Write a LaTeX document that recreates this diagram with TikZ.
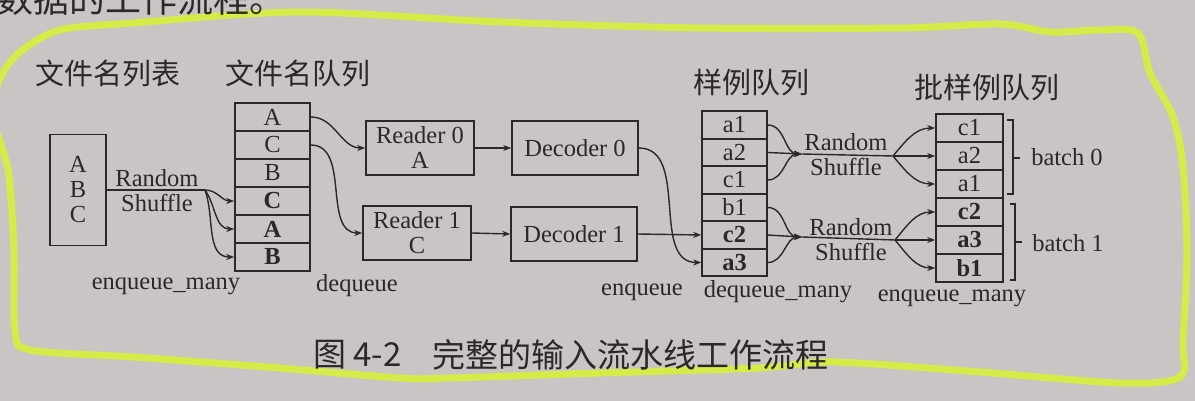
\documentclass[tikz,border=0pt]{standalone}
\usepackage{fontspec}
\setmainfont{Liberation Serif}
\newfontfamily\cjk{Noto Sans CJK SC}
\usetikzlibrary{arrows.meta}
\definecolor{paper}{RGB}{201,197,196}
\definecolor{ink}{RGB}{44,40,40}
\definecolor{marker}{RGB}{214,234,72}

\begin{document}
\begin{tikzpicture}[x=1pt,y=-1pt,
  every node/.style={text=ink,inner sep=0pt,font=\fontsize{24.5}{25}\selectfont},
  box/.style={draw=ink,line width=1.6pt},
  cell/.style={box,minimum width=75pt,minimum height=28pt},
  scell/.style={box,minimum width=65pt,minimum height=27.5pt},
  bcell/.style={box,minimum width=67pt,minimum height=28pt},
  stage/.style={box,minimum width=108pt,minimum height=54pt,align=center},
  heading/.style={font=\cjk\fontsize{29}{30}\selectfont},
  wire/.style={draw=ink,line width=1.4pt},
  flow/.style={wire,-{Stealth[length=8pt,width=6pt]}}]
\fill[paper] (0,0) rectangle (1195,401);
\useasboundingbox (0,0) rectangle (1195,401);
\draw[marker,line width=7pt,line cap=round,line join=round] plot[smooth,tension=0.5] coordinates {(-8,112) (0,78) (20,52) (60,30) (133,23) (300,12) (500,22) (700,28) (900,28) (1000,24) (1050,32) (1100,30) (1138,33) (1150,73) (1173,117) (1183,167) (1187,253) (1183,340) (1180,377) (1120,383) (980,372) (833,362) (759,368) (600,373) (450,378) (400,378) (267,367) (133,357) (30,350) (15,330) (14,250) (8,170) (-8,120)};
\node[anchor=base west,font=\cjk\fontsize{36}{36}\selectfont] (prev) at (-3,13) {数据的工作流程。};

\node[heading] (hlist) at (108,73) {文件名列表};
\node[heading] (hqueue) at (298,73) {文件名队列};
\node[heading] (hsample) at (751,83) {样例队列};
\node[heading] (hbatch) at (987,88) {批样例队列};

\node[box,minimum width=56pt,minimum height=111pt,align=center] (list) at (78,190) {A\\B\\C};
\node[cell] (q1) at (272.5,117) {A};
\node[cell] (q2) at (272.5,145) {C};
\node[cell] (q3) at (272.5,173) {B};
\node[cell] (q4) at (272.5,201) {\textbf{C}};
\node[cell] (q5) at (272.5,229) {\textbf{A}};
\node[cell] (q6) at (272.5,257) {\textbf{B}};

\node[stage] (rd0) at (420,148) {Reader 0\\A};
\node[stage] (rd1) at (417,233) {Reader 1\\C};
\node[stage,minimum width=126pt] (dc0) at (575,148) {Decoder 0};
\node[stage,minimum width=126pt] (dc1) at (574,234) {Decoder 1};

\node[scell] (s1) at (734.5,125) {a1};
\node[scell] (s2) at (734.5,152.5) {a2};
\node[scell] (s3) at (734.5,180) {c1};
\node[scell] (s4) at (734.5,207.5) {b1};
\node[scell] (s5) at (734.5,235) {\textbf{c2}};
\node[scell] (s6) at (734.5,262.5) {\textbf{a3}};

\node[bcell] (b1) at (969.5,128) {c1};
\node[bcell] (b2) at (969.5,156) {a2};
\node[bcell] (b3) at (969.5,184) {a1};
\node[bcell] (b4) at (969.5,212) {\textbf{c2}};
\node[bcell] (b5) at (969.5,240) {\textbf{a3}};
\node[bcell] (b6) at (969.5,268) {\textbf{b1}};

\node[align=center] (rs0) at (157,190.5) {Random\\Shuffle};
\node[align=center] (rs1) at (846,154.5) {Random\\Shuffle};
\node[align=center] (rs2) at (851,239.5) {Random\\Shuffle};

\coordinate (j0) at (205,190);
\coordinate (m0) at (802,154);
\coordinate (k0) at (893,156);
\coordinate (m1) at (802,237);
\coordinate (k1) at (895,240);

\draw[wire] (list.east |- j0) -- (j0);
\draw[flow] (j0) to[out=0,in=180] (q4.west);
\draw[flow] (j0) to[out=-55,in=180] (q5.west);
\draw[flow] (j0) to[out=-70,in=180] (q6.west);
\draw[flow] (q1.east) to[out=0,in=180] (rd0.west);
\draw[flow] (q2.east) to[out=0,in=180] (rd1.west);
\draw[flow] (rd0.east) -- (dc0.west);
\draw[flow] (rd1.east) -- (dc1.west);
\draw[flow] (dc0.east) to[out=0,in=180] (s6.west);
\draw[flow] (dc1.east) -- (s5.west);

\draw[flow] (s1.east) to[out=0,in=180] (m0);
\draw[flow] (s2.east) -- (m0);
\draw[flow] (s3.east) to[out=0,in=180] (m0);
\draw[wire] (m0) -- (k0);
\draw[flow] (k0) to[out=50,in=180] (b1.west);
\draw[flow] (k0) -- (b2.west);
\draw[flow] (k0) to[out=-50,in=180] (b3.west);
\draw[flow] (s4.east) to[out=0,in=180] (m1);
\draw[flow] (s5.east) -- (m1);
\draw[flow] (s6.east) to[out=0,in=180] (m1);
\draw[wire] (m1) -- (k1);
\draw[flow] (k1) to[out=50,in=180] (b4.west);
\draw[flow] (k1) -- (b5.west);
\draw[flow] (k1) to[out=-50,in=180] (b6.west);

\draw[wire] (1007,120) -- (1013,120) -- (1013,194) -- (1007,194) (1013,158) -- (1020,158);
\draw[wire] (1010,204) -- (1015,204) -- (1015,280) -- (1010,280) (1015,242) -- (1022,242);
\node (bt0) at (1067,157) {batch 0};
\node (bt1) at (1068,243) {batch 1};

\node (lenq0) at (166,286) {enqueue\_many};
\node (ldeq0) at (357,286) {dequeue};
\node (lenq1) at (642,292) {enqueue};
\node (ldeq1) at (778,292) {dequeue\_many};
\node (lenq2) at (952,298) {enqueue\_many};

\node[anchor=west,font=\cjk\fontsize{33}{33}\selectfont] (fignum) at (313,355) {图 4-2};
\node[anchor=west,font=\cjk\fontsize{33}{33}\selectfont] (caption) at (432,355) {完整的输入流水线工作流程};
\end{tikzpicture}
\end{document}
